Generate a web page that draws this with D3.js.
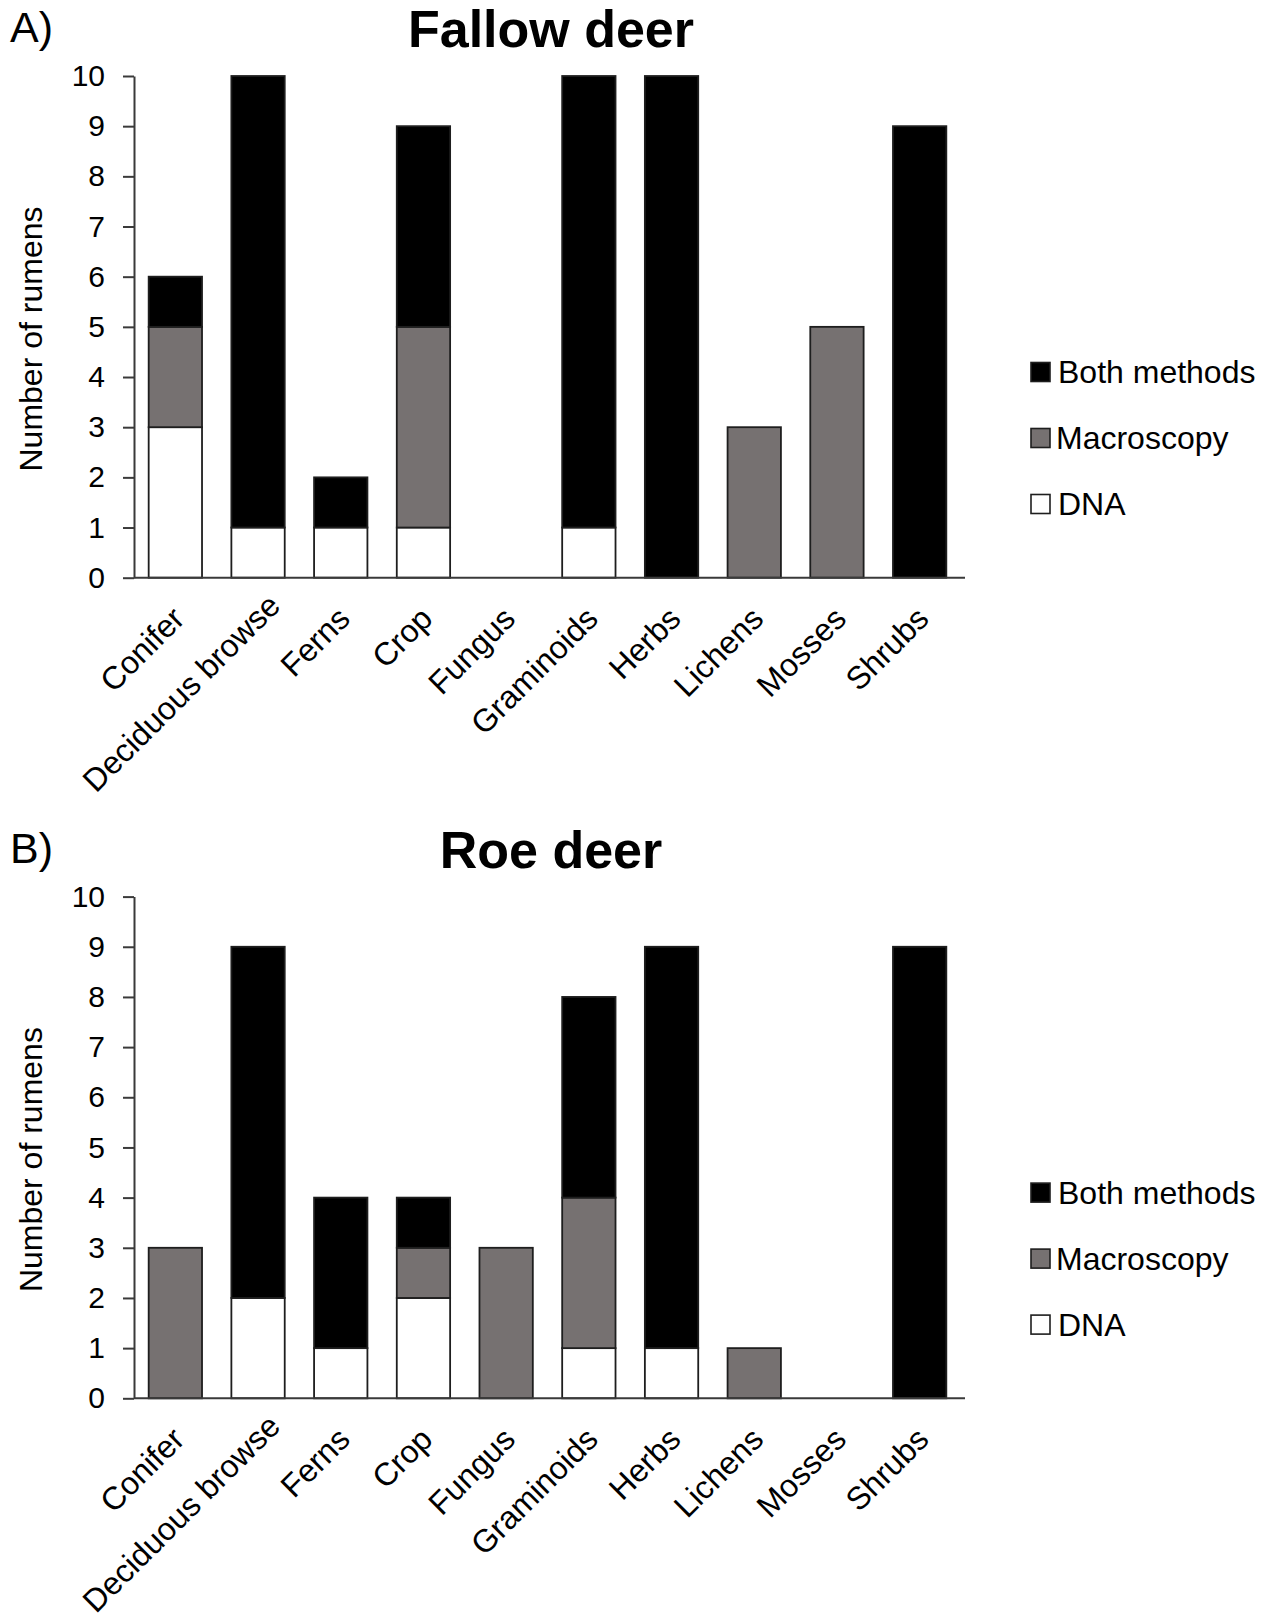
<!DOCTYPE html>
<html>
<head>
<meta charset="utf-8">
<script src="https://cdn.jsdelivr.net/npm/d3@7"></script>
<style>
  html, body { margin: 0; padding: 0; background: #fff; }
  svg { display: block; }
  text { font-family: "Liberation Sans", Arial, Helvetica, sans-serif; fill: #000; }
</style>
</head>
<body>
<svg id="chart" width="1273" height="1621"></svg>
<script>
// ---- data ----
const categories = ["Conifer", "Deciduous browse", "Ferns", "Crop", "Fungus", "Graminoids", "Herbs", "Lichens", "Mosses", "Shrubs"];
const seriesNames = ["DNA", "Macroscopy", "Both methods"];
const legendOrder = ["Both methods", "Macroscopy", "DNA"];
const yTicks = [0, 1, 2, 3, 4, 5, 6, 7, 8, 9, 10];

const fallowDNA   = [3, 1, 1, 1, 0, 1, 0, 0, 0, 0];
const fallowMacro = [2, 0, 0, 4, 0, 0, 0, 3, 5, 0];
const fallowBoth  = [1, 9, 1, 4, 0, 9, 10, 0, 0, 9];

const roeDNA   = [0, 2, 1, 2, 0, 1, 1, 0, 0, 0];
const roeMacro = [3, 0, 0, 1, 3, 3, 0, 1, 0, 0];
const roeBoth  = [0, 7, 3, 1, 0, 4, 8, 0, 0, 9];

const panelTitles = ["Fallow deer", "Roe deer"];
const panelLetters = ["A)", "B)"];
const yAxisTitle = "Number of rumens";

// ---- styling ----
const colors = { "DNA": "#ffffff", "Macroscopy": "#767171", "Both methods": "#000000" };
const strokeCol = "#1e1e1e";
const axisCol = "#3a3a3a";

const svg = d3.select("#chart");

const panels = [
  { title: panelTitles[0], letter: panelLetters[0], dna: fallowDNA, macro: fallowMacro, both: fallowBoth, off: 0 },
  { title: panelTitles[1], letter: panelLetters[1], dna: roeDNA, macro: roeMacro, both: roeBoth, off: 820.6 }
];

const xLeft = 134, xRight = 961;
const x = d3.scaleBand().domain(categories).range([xLeft, xRight]).paddingInner(0.355).paddingOuter(0.1775);

panels.forEach(p => {
  const g = svg.append("g").attr("transform", `translate(0,${p.off})`);
  const y = d3.scaleLinear().domain([0, 10]).range([577.7, 76]);

  const rows = categories.map((c, i) => ({ cat: c, "DNA": p.dna[i], "Macroscopy": p.macro[i], "Both methods": p.both[i] }));
  const stacked = d3.stack().keys(seriesNames)(rows);

  // letter + title
  g.append("text").attr("x", 10).attr("y", 42).attr("font-size", 43).text(p.letter);
  g.append("text").attr("x", 551).attr("y", 47).attr("text-anchor", "middle")
    .attr("font-size", 52).attr("font-weight", "bold").text(p.title);

  // bars
  stacked.forEach(s => {
    g.append("g").selectAll("rect")
      .data(s.filter(d => d[1] - d[0] > 0))
      .join("rect")
      .attr("x", d => x(d.data.cat))
      .attr("width", x.bandwidth())
      .attr("y", d => y(d[1]))
      .attr("height", d => y(d[0]) - y(d[1]))
      .attr("fill", colors[s.key])
      .attr("stroke", strokeCol)
      .attr("stroke-width", 1.8);
  });

  // y axis
  const yAxis = g.append("g").attr("transform", `translate(${xLeft},0)`)
    .call(d3.axisLeft(y).tickValues(yTicks).tickSize(11).tickSizeOuter(0).tickPadding(18));
  yAxis.select(".domain").attr("stroke", axisCol).attr("stroke-width", 2);
  yAxis.selectAll(".tick line").attr("stroke", axisCol).attr("stroke-width", 2);
  yAxis.selectAll(".tick text").attr("font-size", 30).attr("fill", "#000");

  // x axis
  const xAxis = g.append("g").attr("transform", `translate(0,${y(0)})`)
    .call(d3.axisBottom(x).tickSize(0).tickSizeOuter(0));
  xAxis.select(".domain").attr("stroke", axisCol).attr("stroke-width", 2)
    .attr("d", `M${xLeft},0H${xRight + 4}`);
  const labelDx = 11, labelDy = 43, labelLimit = 216; // keep labels inside chart area
  xAxis.selectAll(".tick text")
    .attr("font-size", 32).attr("fill", "#000")
    .attr("y", 0).attr("dy", 0)
    .attr("text-anchor", "end")
    .each(function () {
      const L = this.getComputedTextLength();
      const bottom = labelDy + L * Math.SQRT1_2;
      const s = Math.max(0, bottom - labelLimit);
      d3.select(this).attr("transform", `translate(${labelDx + s},${labelDy - s}) rotate(-45)`);
    });

  // y axis title
  g.append("text").attr("transform", `translate(42,339) rotate(-90)`)
    .attr("text-anchor", "middle").attr("font-size", 32).text(yAxisTitle);

  // legend
  const legendY = [372, 438, 504];
  legendOrder.forEach((k, i) => {
    g.append("rect").attr("x", 1031).attr("y", legendY[i] - 9.5).attr("width", 19).attr("height", 19)
      .attr("fill", colors[k]).attr("stroke", strokeCol).attr("stroke-width", 1.6);
    g.append("text").attr("x", k === "Macroscopy" ? 1056 : 1058).attr("y", legendY[i] + 11)
      .attr("font-size", 32).text(k);
  });
});
</script>
</body>
</html>
